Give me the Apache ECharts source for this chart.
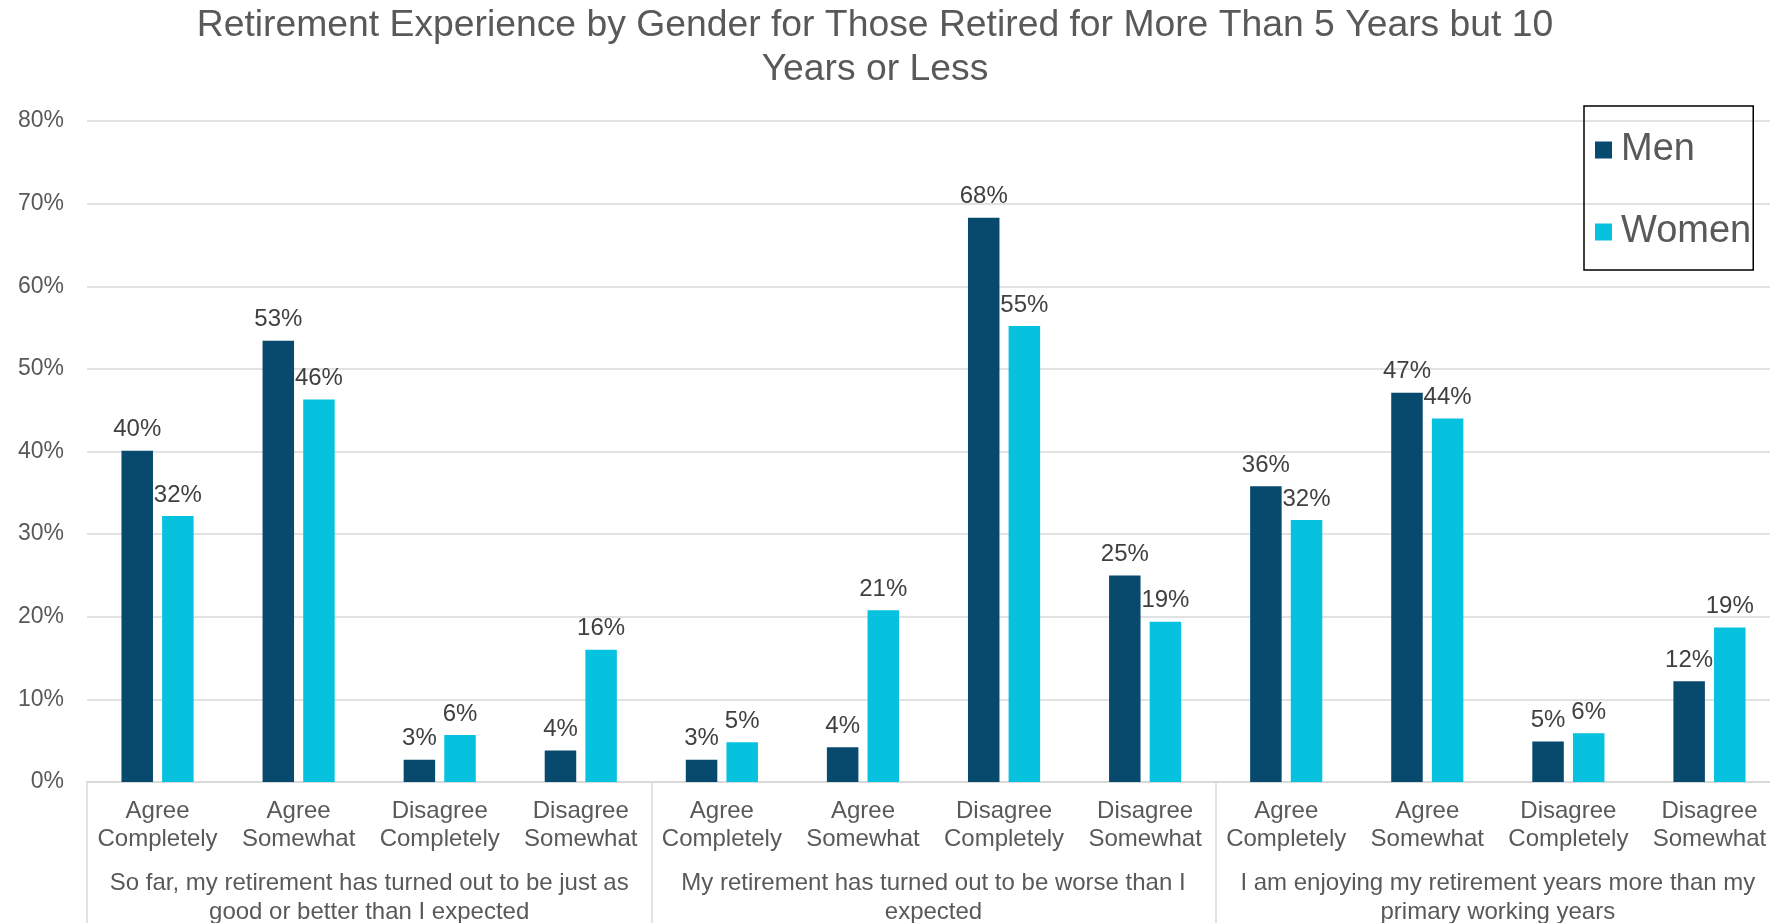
<!DOCTYPE html>
<html><head><meta charset="utf-8">
<script src="https://cdn.jsdelivr.net/npm/echarts@6/dist/echarts.min.js"></script>
<style>html,body{margin:0;padding:0;background:#fff}#c{width:1770px;height:923px}</style>
</head><body><div id="c"></div>
<script>
const titleText = 'Retirement Experience by Gender for Those Retired for More Than 5 Years but 10\nYears or Less';
const categories = ['Agree\nCompletely','Agree\nSomewhat','Disagree\nCompletely','Disagree\nSomewhat',
  'Agree\nCompletely','Agree\nSomewhat','Disagree\nCompletely','Disagree\nSomewhat',
  'Agree\nCompletely','Agree\nSomewhat','Disagree\nCompletely','Disagree\nSomewhat'];
const groups = ['So far, my retirement has turned out to be just as\ngood or better than I expected',
  'My retirement has turned out to be worse than I\nexpected',
  'I am enjoying my retirement years more than my\nprimary working years'];
const men   = [40.1, 53.4, 2.7, 3.8, 2.7, 4.2, 68.3, 25.0, 35.8, 47.1, 4.9, 12.2];
const women = [32.2, 46.3, 5.7, 16.0, 4.8, 20.8, 55.2, 19.4, 31.7, 44.0, 5.9, 18.7];
const yTicks = [0, 10, 20, 30, 40, 50, 60, 70, 80];

const font = 'Liberation Sans, Arial, sans-serif';
const txt = '#595959';
const grid = '#d9d9d9';
const chart = echarts.init(document.getElementById('c'));
const lbl = {show: true, position: 'top', distance: 9, color: '#404040', fontSize: 24, fontFamily: font,
  formatter: p => Math.round(p.value) + '%'};
chart.setOption({
  animation: false,
  title: {text: titleText, left: 870, top: -1, textAlign: 'center',
    textStyle: {fontFamily: font, fontSize: 37.3, fontWeight: 'normal', color: txt, lineHeight: 44}},
  legend: {orient: 'vertical', left: 1584, top: 106,
    padding: [25, 2, 19, 11], itemGap: 44, itemWidth: 17, itemHeight: 17,
    borderColor: '#000', borderWidth: 1.5, icon: 'rect',
    textStyle: {fontFamily: font, fontSize: 38, color: txt, padding: [0, 0, 0, 4]},
    data: ['Men', 'Women']},
  grid: {left: 87, width: 1693, top: 121, height: 661, containLabel: false, outerBoundsMode: 'none'},
  xAxis: [
    {type: 'category', data: categories, position: 'bottom',
      axisLine: {show: true, lineStyle: {color: grid, width: 2}},
      axisTick: {show: false},
      axisLabel: {interval: 0, margin: 15, color: txt, fontFamily: font, fontSize: 24, lineHeight: 28}},
    {type: 'category', data: groups, position: 'bottom',
      axisLine: {show: false},
      axisTick: {show: true, length: 145, lineStyle: {color: grid, width: 1.5}},
      axisLabel: {interval: 0, margin: 87, color: txt, fontFamily: font, fontSize: 24, lineHeight: 29}}
  ],
  yAxis: {type: 'value', min: yTicks[0], max: yTicks[yTicks.length - 1], interval: 10,
    axisLine: {show: false}, axisTick: {show: false},
    splitLine: {lineStyle: {color: grid, width: 1.5}},
    axisLabel: {formatter: '{value}%', margin: 23, color: txt, fontFamily: font, fontSize: 23}},
  series: [
    {name: 'Men', type: 'bar', data: men, barWidth: 31.5, barGap: '29%', itemStyle: {color: '#074a6e'}, label: lbl},
    {name: 'Women', type: 'bar', data: women, barWidth: 31.5, barGap: '29%', itemStyle: {color: '#06c2de'}, label: lbl}
  ]
});
</script></body></html>
